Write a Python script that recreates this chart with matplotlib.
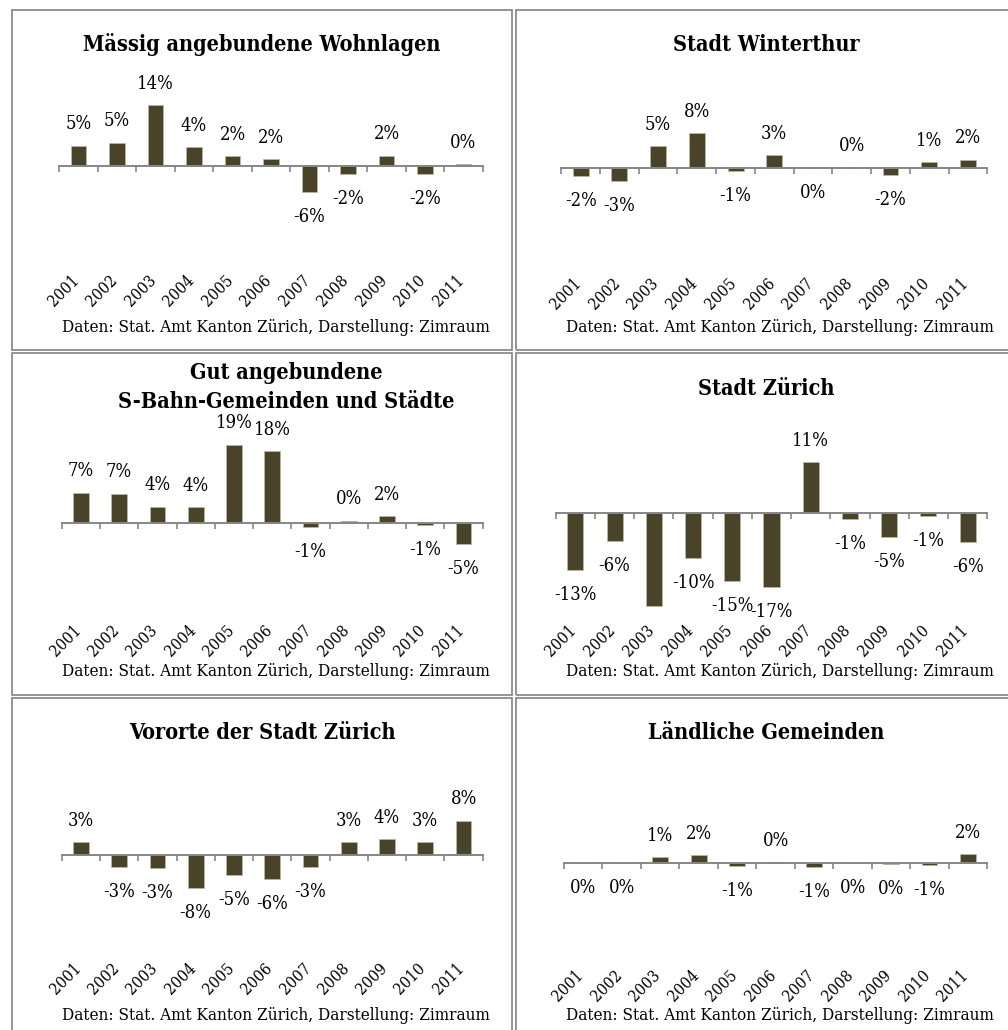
import matplotlib
matplotlib.use("Agg")
import matplotlib.pyplot as plt
from matplotlib.patches import Rectangle
from matplotlib.transforms import blended_transform_factory, offset_copy

W, H = 1008, 1030
DPI = 100

# ---- data: annual change in %, 2001-2011 -------------------------------
years = ["2001", "2002", "2003", "2004", "2005", "2006",
         "2007", "2008", "2009", "2010", "2011"]

maessig = [4.65, 5.3, 14.1, 4.3, 2.25, 1.55, -6.2, -1.9, 2.3, -2.0, 0.35]
winterthur = [-1.9, -3.2, 5.0, 8.0, -0.8, 2.95, -0.05, 0.1, -1.8, 1.3, 1.9]
gut = [7.4, 7.2, 4.0, 3.8, 19.3, 17.6, -1.0, 0.45, 1.65, -0.6, -5.3]
zuerich = [-12.7, -6.2, -20.9, -10.0, -15.2, -16.6, 11.4, -1.3, -5.3, -0.6, -6.45]
vororte = [3.05, -2.9, -3.0, -7.7, -4.6, -5.7, -2.8, 3.0, 3.75, 3.0, 8.05]
laendlich = [-0.05, -0.05, 1.2, 1.7, -0.8, 0.05, -0.95, -0.05, -0.2, -0.6, 1.85]

titles = ["Mässig angebundene Wohnlagen",
          "Stadt Winterthur",
          "Gut angebundene\nS-Bahn-Gemeinden und Städte",
          "Stadt Zürich",
          "Vororte der Stadt Zürich",
          "Ländliche Gemeinden"]
series = [maessig, winterthur, gut, zuerich, vororte, laendlich]
source = "Daten: Stat. Amt Kanton Zürich, Darstellung: Zimraum"

# years whose value label is not shown, per panel
hidden_labels = [[], [], [], ["2003"], [], []]

# ---- layout (pixels) ----------------------------------------------------
# panel box: left, top, right, bottom
boxes = [(12, 10, 512, 350), (516, 10, 1016, 350),
         (12, 353, 512, 695), (516, 353, 1016, 695),
         (12, 698, 512, 1039), (516, 698, 1016, 1039)]
# category axis extent (x0, x1), zero-line y, pixels per percent, year-label y
axis_x = [(59.3, 482.7), (561.3, 987.3), (61.7, 482.7),
          (555.7, 987.3), (61.7, 482.7), (564.0, 987.3)]
zero_y = [165.7, 167.7, 522.7, 513.0, 855.0, 862.7]
px_per_pct = [4.3, 4.3, 4.05, 4.45, 4.25, 4.5]
year_y = [272, 275, 621.7, 621.7, 960, 966.7]
title_xy = [(262, 45), (766, 45), (286, 387.5), (766, 389.3), (262, 733.3), (766, 733.3)]
TITLE_LINE = 28.4

BAR = "#494429"
AXIS = "#868686"
FRAME = "#8c8c8c"

plt.rcParams["font.family"] = "DejaVu Serif"
plt.rcParams["font.stretch"] = "condensed"

fig = plt.figure(figsize=(W / DPI, H / DPI), dpi=DPI)
fig.patch.set_facecolor("white")


def pct_label(v):
    r = int(round(v))
    return f"{r}%"


for k in range(6):
    l, t, r, b = boxes[k]
    fig.add_artist(Rectangle((l / W, 1 - b / H), (r - l) / W, (b - t) / H,
                             transform=fig.transFigure, fill=False,
                             edgecolor=FRAME, linewidth=1.3))

    x0, x1 = axis_x[k]
    top = t + 60
    bottom = year_y[k]
    ax = fig.add_axes([x0 / W, 1 - bottom / H, (x1 - x0) / W, (bottom - top) / H])
    s = px_per_pct[k]
    z = zero_y[k]
    ax.set_ylim(-(bottom - z) / s, (z - top) / s)
    n = len(years)
    ax.set_xlim(-0.5, n - 0.5)

    vals = series[k]
    xs = list(range(n))
    ax.bar(xs, vals, width=0.41, color=BAR, edgecolor="#bdb8a6", linewidth=0.5,
           zorder=2)

    for sp in ["top", "right", "left"]:
        ax.spines[sp].set_visible(False)
    ax.spines["bottom"].set_position(("data", 0))
    ax.spines["bottom"].set_color(AXIS)
    ax.spines["bottom"].set_linewidth(1.4)
    ax.spines["bottom"].set_zorder(3)
    ax.set_xticks([i - 0.5 for i in range(n + 1)])
    ax.set_xticklabels([])
    ax.tick_params(axis="x", direction="out", length=4, width=1.2, color=AXIS)
    ax.set_yticks([])
    ax.patch.set_alpha(0)

    trans = offset_copy(blended_transform_factory(ax.transData, ax.transAxes),
                        fig=fig, x=-8, y=0, units="dots")
    for i, y in enumerate(years):
        ax.text(i, 0, y, transform=trans, rotation=45,
                rotation_mode="anchor", ha="right", va="top", fontsize=11.5)

    for i, v in enumerate(vals):
        if years[i] in hidden_labels[k]:
            continue
        off = 21.5 if v >= 0 else -25
        ax.annotate(pct_label(v), (i, v), xytext=(0, off),
                    textcoords="offset pixels", ha="center", va="center",
                    fontsize=13.2, annotation_clip=False)

    tx, ty = title_xy[k]
    lines = titles[k].split("\n")
    for j, line in enumerate(lines):
        ly = ty + (j - (len(lines) - 1) / 2) * TITLE_LINE
        fig.text(tx / W, 1 - ly / H, line, ha="center", va="center",
                 fontsize=15.6, fontweight="bold")
    fig.text((l + 478) / W, 1 - (t + 318) / H, source, ha="right",
             va="center", fontsize=12.25)

fig.savefig("out.png", dpi=DPI, facecolor="white")
